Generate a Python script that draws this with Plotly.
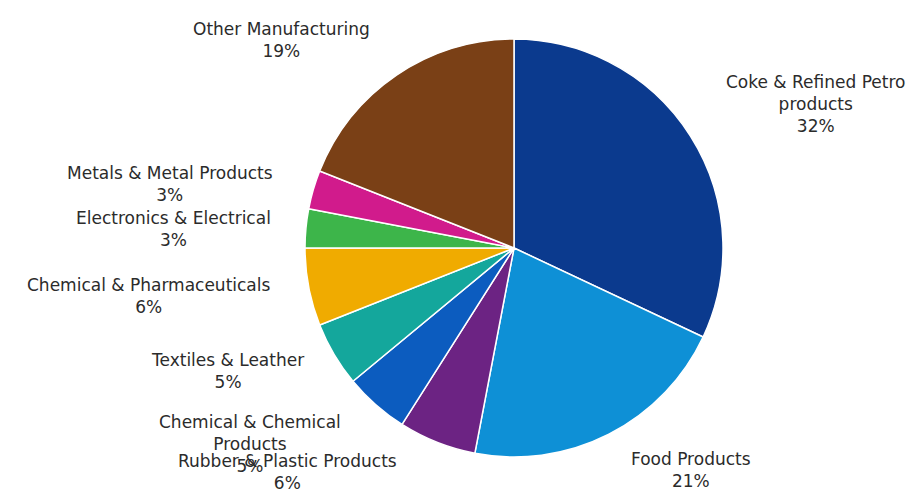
import plotly.graph_objects as go

W, H = 921, 491

# ---- data ----
categories = [
    "Coke & Refined Petro products",
    "Food Products",
    "Rubber & Plastic Products",
    "Chemical & Chemical Products",
    "Textiles & Leather",
    "Chemical & Pharmaceuticals",
    "Electronics & Electrical",
    "Metals & Metal Products",
    "Other Manufacturing",
]
display_names = [
    "Coke & Refined Petro<br>products",
    "Food Products",
    "Rubber & Plastic Products",
    "Chemical & Chemical<br>Products",
    "Textiles & Leather",
    "Chemical & Pharmaceuticals",
    "Electronics & Electrical",
    "Metals & Metal Products",
    "Other Manufacturing",
]
shares = [32, 21, 6, 5, 5, 6, 3, 3, 19]

# ---- style ----
colors = ["#0b3a8e", "#0e90d6", "#6c2383", "#0c5cbf", "#14a79c",
          "#f0ab00", "#3db54a", "#d11b8c", "#7a4016"]
# label block centres in pixels
label_pos = [(815, 104), (691, 470), (287, 472), (250, 444), (227, 371),
             (149, 296), (173, 229), (170, 184), (281, 40)]

fig = go.Figure(go.Pie(
    labels=categories,
    values=shares,
    sort=False,
    direction="clockwise",
    rotation=0,
    textinfo="none",
    hoverinfo="label+percent",
    marker=dict(colors=colors, line=dict(color="white", width=1.5)),
    domain=dict(x=[305 / W, 723 / W], y=[1 - 458 / H, 1 - 38 / H]),
    showlegend=False,
))

for name, v, (px, py) in zip(display_names, shares, label_pos):
    fig.add_annotation(
        x=px / W, y=1 - py / H, xref="paper", yref="paper",
        text=f"{name}<br>{v}%", showarrow=False,
        xanchor="center", yanchor="middle", align="center",
        font=dict(family="DejaVu Sans", size=17, color="#2b2b2b"),
    )

fig.update_layout(
    width=W, height=H,
    margin=dict(l=0, r=0, t=0, b=0),
    paper_bgcolor="white", plot_bgcolor="white",
)

fig.write_html("out.html")
